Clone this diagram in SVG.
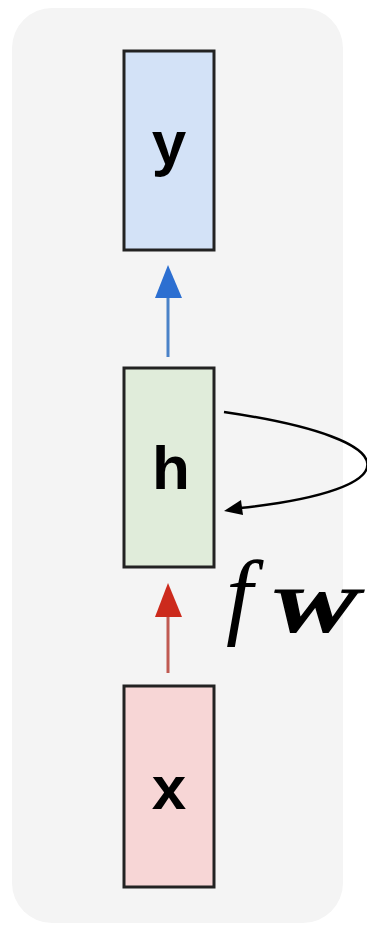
<svg xmlns="http://www.w3.org/2000/svg" width="367" height="930" viewBox="0 0 367 930">
<defs>
<style>
.box{stroke:#222;stroke-width:3}
.lbl{font-family:"Liberation Sans",Arial,sans-serif;font-weight:bold;font-size:62px;fill:#000;text-anchor:middle}
</style>
</defs>
<rect width="367" height="930" fill="#fff"/>
<rect x="12" y="8" width="331" height="915" rx="40" ry="40" fill="#f4f4f4"/>
<g id="connectors">
<line x1="168" y1="357" x2="168" y2="296" stroke="#4a82c8" stroke-width="3"/>
<polygon points="168,265 155,298 182,298" fill="#2c6fd1"/>
<line x1="168" y1="673" x2="168" y2="615" stroke="#c05a52" stroke-width="3"/>
<polygon points="168,583 155,617 182,617" fill="#cc2a1c"/>
<path d="M224,412 C415,440 410,490 240,508" fill="none" stroke="#000" stroke-width="2.5"/>
<polygon points="224,511 241,500 243,515" fill="#000"/>
</g>
<g id="node-y">
<rect class="box" x="124" y="51" width="90" height="199" fill="#d3e2f7"/>
<text class="lbl" x="169" y="164">y</text>
</g>
<g id="node-h">
<rect class="box" x="124" y="368" width="90" height="199" fill="#e0ecda"/>
<text class="lbl" x="171" y="489">h</text>
</g>
<g id="node-x">
<rect class="box" x="124" y="686" width="90" height="201" fill="#f7d6d6"/>
<text class="lbl" x="169" y="809">x</text>
</g>
<g id="label-fw">
<text x="226" y="627" font-family="'Liberation Serif','Times New Roman',serif" font-style="italic" font-size="96" fill="#000">f</text>
<text x="268" y="632" font-family="'Liberation Serif','Times New Roman',serif" font-style="italic" font-weight="bold" font-size="64" fill="#000" stroke="#000" stroke-width="1" textLength="90" lengthAdjust="spacingAndGlyphs">W</text>
</g>
</svg>
